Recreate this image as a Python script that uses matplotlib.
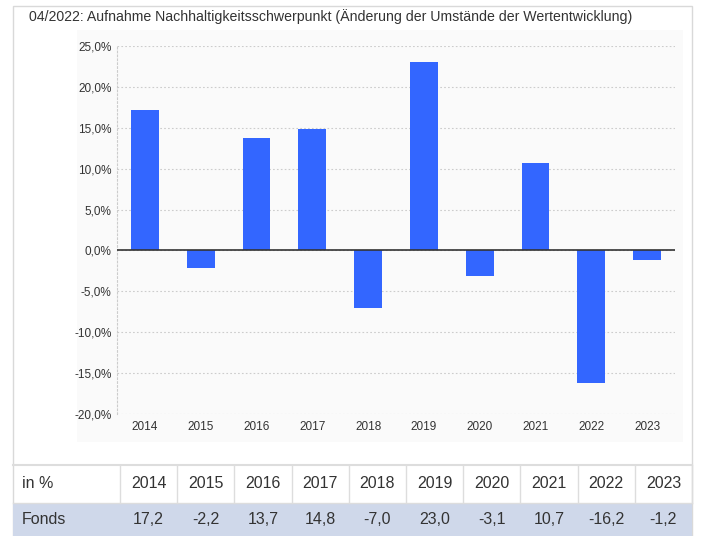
import matplotlib
matplotlib.use("Agg")
import matplotlib.pyplot as plt
from matplotlib.patches import Rectangle
from matplotlib.lines import Line2D

plt.rcParams["font.family"] = ["Liberation Sans", "DejaVu Sans"]

years = ["2014", "2015", "2016", "2017", "2018", "2019", "2020", "2021", "2022", "2023"]
fonds = [17.2, -2.2, 13.7, 14.8, -7.0, 23.0, -3.1, 10.7, -16.2, -1.2]
yticks = [-20, -15, -10, -5, 0, 5, 10, 15, 20, 25]
title = "04/2022: Aufnahme Nachhaltigkeitsschwerpunkt (Änderung der Umstände der Wertentwicklung)"

W, H = 703, 536
fig = plt.figure(figsize=(W / 100, H / 100), dpi=100)


def fx(x):
    return x / W


def fy(y):
    return 1 - y / H


def rect(x0, y0, x1, y1, **kw):
    fig.patches.append(Rectangle((fx(x0), fy(y1)), fx(x1) - fx(x0), fy(y0) - fy(y1),
                                 transform=fig.transFigure, zorder=-2, **kw))


def line(x0, y0, x1, y1, **kw):
    fig.lines.append(Line2D([fx(x0), fx(x1)], [fy(y0), fy(y1)], transform=fig.transFigure, **kw))


# card and chart panel
rect(12.5, 5.5, 692, 540, facecolor="white", edgecolor="#d9d9d9", lw=1)
rect(77, 30, 683, 442, facecolor="#fafafa", edgecolor="none")

fig.text(fx(29), fy(17), title, fontsize=10.15, color="#333333", va="center", ha="left")

ax = fig.add_axes([fx(117), fy(414), fx(675) - fx(117), fy(46) - fy(414)])
ax.set_zorder(3)
ax.set_facecolor("none")
x = range(len(years))
ax.bar(x, fonds, width=0.5, color="#3366ff", zorder=3)
ax.axhline(0, color="#333333", lw=1.2, zorder=4)
ax.set_xlim(-0.5, len(years) - 0.5)
ax.set_ylim(-20, 25)
ax.set_yticks(yticks)
ax.set_yticklabels([f"{v:.1f}%".replace(".", ",") for v in yticks])
ax.set_xticks(list(x))
ax.set_xticklabels(years)
ax.tick_params(length=0, labelsize=8.5, colors="#333333", pad=4)
ax.tick_params(axis="x", pad=5)
ax.grid(axis="y", color="#cccccc", linestyle=(0, (1.5, 2)), lw=0.8, zorder=0)
for s in ["top", "right", "bottom"]:
    ax.spines[s].set_visible(False)
ax.spines["left"].set_color("#cccccc")
ax.spines["left"].set_linestyle((0, (1.5, 2)))
ax.spines["left"].set_linewidth(0.8)

# table
col0_right = 120
col_w = (692 - 120) / len(years)
top, mid, bottom = 465, 503, 540
rect(12.5, mid, 692, bottom, facecolor="#cfd8ea", edgecolor="none")
line(12.5, top, 692, top, color="#dddddd", lw=1.5)
line(12.5, mid, 692, mid, color="#dddddd", lw=1)
for i in range(len(years) + 1):
    xx = col0_right + i * col_w
    line(xx, top, xx, mid, color="#dddddd", lw=1)

fig.text(fx(22), fy((top + mid) / 2), "in %", fontsize=11.5, color="#333333", va="center")
fig.text(fx(22), fy((mid + 536) / 2), "Fonds", fontsize=11.5, color="#333333", va="center")
for i, (yr, v) in enumerate(zip(years, fonds)):
    cx = col0_right + (i + 0.5) * col_w
    fig.text(fx(cx), fy((top + mid) / 2), yr, fontsize=11.5, color="#333333", va="center", ha="center")
    fig.text(fx(cx), fy((mid + 536) / 2), f"{v:.1f}".replace(".", ","), fontsize=11.5,
             color="#333333", va="center", ha="center")

fig.savefig("out.png", dpi=100)
